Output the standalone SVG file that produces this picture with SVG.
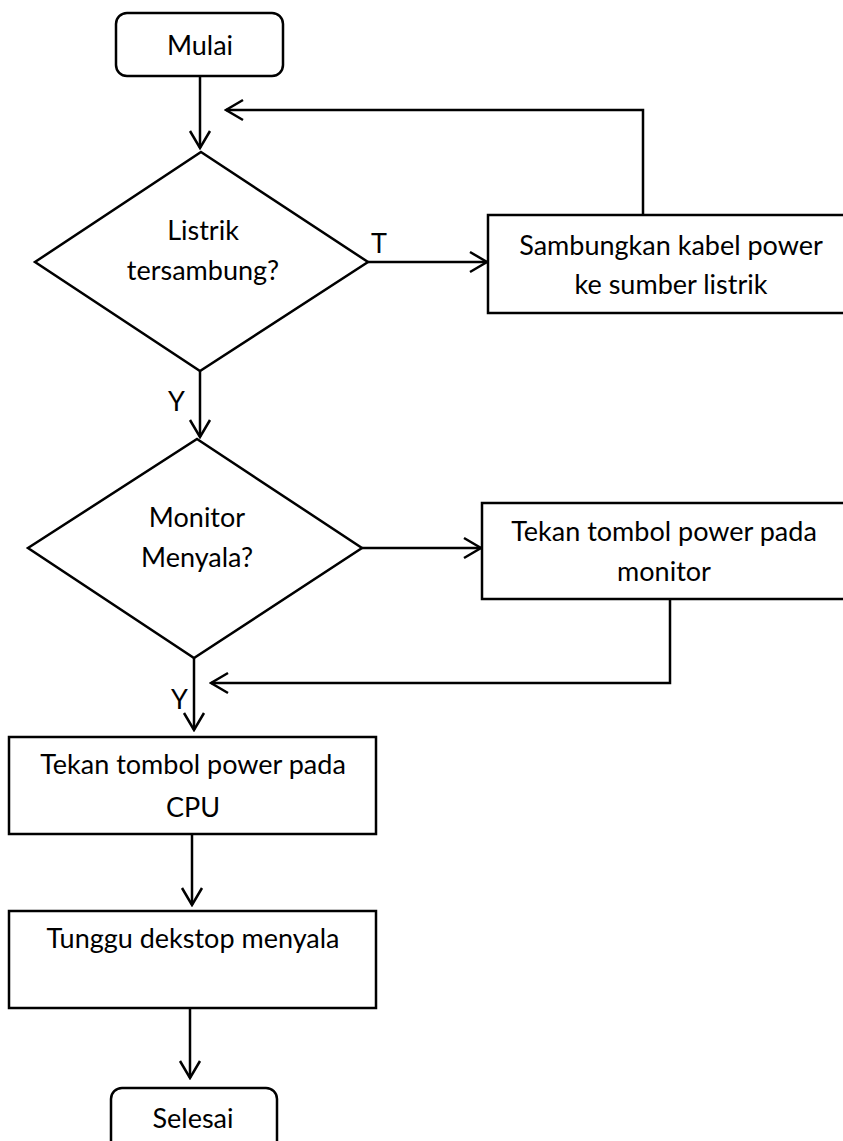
<svg xmlns="http://www.w3.org/2000/svg" width="843" height="1141" viewBox="0 0 843 1141">
<style>
.shape{fill:#fff;stroke:#000;stroke-width:2.5}
.conn{fill:none;stroke:#000;stroke-width:2.5}
.t{font-family:Lato,"Open Sans","Liberation Sans",sans-serif;font-size:27px;fill:#000;text-anchor:middle}
.lbl{font-family:Lato,"Open Sans","Liberation Sans",sans-serif;font-size:27px;fill:#000}
</style>
<defs>
<marker id="arr" markerUnits="userSpaceOnUse" viewBox="-20 -12 22 24" refX="0" refY="0" markerWidth="22" markerHeight="24" orient="auto">
<path d="M-17,-10 L0,0 L-17,10" fill="none" stroke="#000" stroke-width="2.5"/>
</marker>
</defs>
<rect width="843" height="1141" fill="#fff"/>
<g id="connectors">
<path class="conn" d="M200,76 L200,148" marker-end="url(#arr)"/>
<path class="conn" d="M643,215 L643,110 L226,110" marker-end="url(#arr)"/>
<path class="conn" d="M368,262 L487,262" marker-end="url(#arr)"/>
<path class="conn" d="M200,371 L200,437" marker-end="url(#arr)"/>
<path class="conn" d="M362,548 L481,548" marker-end="url(#arr)"/>
<path class="conn" d="M670,600 L670,683 L211,683" marker-end="url(#arr)"/>
<path class="conn" d="M194,658 L194,730" marker-end="url(#arr)"/>
<path class="conn" d="M192,834 L192,905" marker-end="url(#arr)"/>
<path class="conn" d="M190,1008 L190,1078" marker-end="url(#arr)"/>
<text class="lbl" x="371" y="253">T</text>
<text class="lbl" x="168" y="411">Y</text>
<text class="lbl" x="171" y="709">Y</text>
</g>
<g id="mulai">
<rect class="shape" x="116" y="13" width="167" height="63" rx="11"/>
<text class="t" x="200" y="55">Mulai</text>
</g>
<g id="listrik">
<polygon class="shape" points="201,152 368,262 200,371 35,262"/>
<text class="t" x="203" y="240">Listrik</text>
<text class="t" x="203" y="280">tersambung?</text>
</g>
<g id="sambungkan">
<rect class="shape" x="488" y="215" width="370" height="98"/>
<text class="t" x="671" y="255">Sambungkan kabel power</text>
<text class="t" x="671" y="294">ke sumber listrik</text>
</g>
<g id="monitor">
<polygon class="shape" points="197,439 362,548 194,658 28,548"/>
<text class="t" x="197" y="527">Monitor</text>
<text class="t" x="197" y="567">Menyala?</text>
</g>
<g id="tekan-monitor">
<rect class="shape" x="482" y="503" width="376" height="96"/>
<text class="t" x="664" y="541">Tekan tombol power pada</text>
<text class="t" x="664" y="581">monitor</text>
</g>
<g id="tekan-cpu">
<rect class="shape" x="9" y="737" width="367" height="97"/>
<text class="t" x="193" y="774">Tekan tombol power pada</text>
<text class="t" x="193" y="817">CPU</text>
</g>
<g id="tunggu">
<rect class="shape" x="9" y="911" width="367" height="97"/>
<text class="t" x="193" y="948">Tunggu dekstop menyala</text>
</g>
<g id="selesai">
<rect class="shape" x="111" y="1088" width="166" height="80" rx="11"/>
<text class="t" x="193" y="1128">Selesai</text>
</g>
</svg>
